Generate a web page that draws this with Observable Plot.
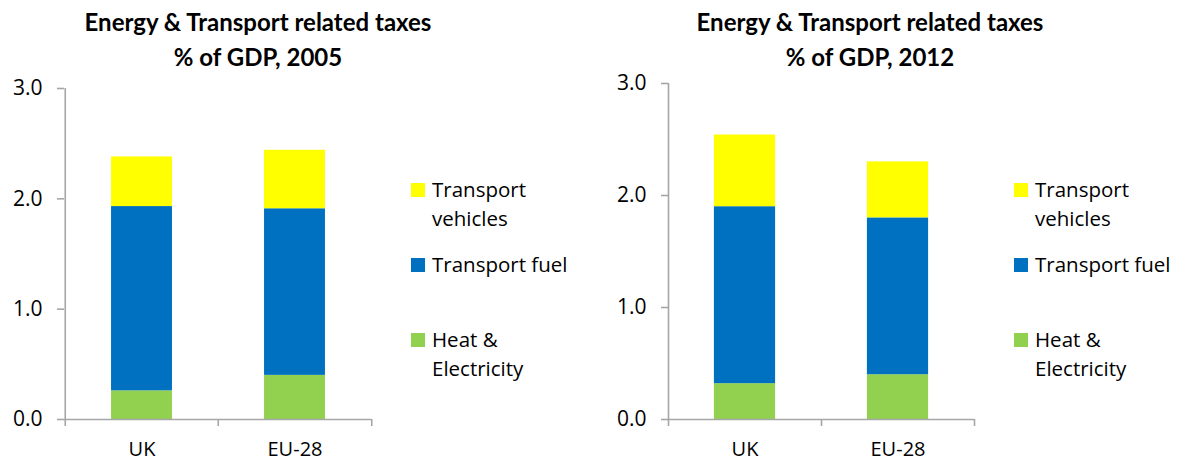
<!DOCTYPE html>
<html><head><meta charset="utf-8">
<script src="https://cdn.jsdelivr.net/npm/d3@7"></script>
<script src="https://cdn.jsdelivr.net/npm/@observablehq/plot@0.6"></script>
<style>
body{margin:0;background:#fff;}
#root{position:relative;width:1184px;height:462px;overflow:hidden;font-family:"Open Sans",Lato,sans-serif;color:#000;background:#fff;}
.title{position:absolute;top:4px;width:520px;text-align:center;font-family:Lato,"Open Sans",sans-serif;font-weight:700;font-size:24px;line-height:35px;white-space:nowrap;}
.legtext{position:absolute;font-size:20.5px;line-height:29px;white-space:nowrap;}
.sw{position:absolute;width:14px;height:14px;}
.panel{position:absolute;top:70px;}
</style></head><body><div id="root"></div>
<script>
// ---- data ----
const categories = ["UK", "EU-28"];
const seriesNames = ["Heat & Electricity", "Transport fuel", "Transport vehicles"];
const seriesColors = ["#92D050", "#0070C0", "#FFFF00"];
const heat2005 = [0.26, 0.40];
const fuel2005 = [1.67, 1.51];
const vehicles2005 = [0.45, 0.53];
const heat2012 = [0.32, 0.40];
const fuel2012 = [1.58, 1.40];
const vehicles2012 = [0.64, 0.50];
const yTicks = [0, 1, 2, 3];
const titleLine1 = "Energy & Transport related taxes";
const titleLine2 = ["% of GDP, 2005", "% of GDP, 2012"];
const legendLines = [["Heat &", "Electricity"], ["Transport fuel"], ["Transport", "vehicles"]];

// ---- layout ----
const gray = "#A6A6A6";
const W = 380, H = 392;
const panels = [
  {left: 0, ml: 64, mr: 9, mt: 18, titleCx: 258, legX: 411, values: [heat2005, fuel2005, vehicles2005], sub: titleLine2[0]},
  {left: 600, ml: 68, mr: 6, mt: 13, titleCx: 870, legX: 1014, values: [heat2012, fuel2012, vehicles2012], sub: titleLine2[1]}
];
const legendCenters = [340, 265, 190];

const root = document.getElementById("root");

panels.forEach(p => {
  const rows = [];
  seriesNames.forEach((s, si) => categories.forEach((c, ci) => rows.push({cat: c, series: s, value: p.values[si][ci]})));
  const bw = (W - p.ml - p.mr) / categories.length;
  const chart = Plot.plot({
    width: W, height: H,
    marginLeft: p.ml, marginRight: p.mr, marginTop: p.mt, marginBottom: 43,
    style: {fontFamily: "'Open Sans', Lato, sans-serif", fontSize: "21px", color: "#000", background: "transparent", overflow: "visible"},
    x: {type: "band", domain: categories, padding: 0, axis: null},
    y: {domain: [0, 3], axis: null},
    color: {domain: seriesNames, range: seriesColors},
    marks: [
      Plot.barY(rows, {x: "cat", y: "value", fill: "series", insetLeft: bw * 0.3, insetRight: bw * 0.3}),
      Plot.ruleY([0], {stroke: gray, strokeWidth: 1.6}),
      Plot.ruleX([categories[0]], {x: d => d, dx: -bw / 2, y1: 0, y2: 3, stroke: gray, strokeWidth: 1.6}),
      Plot.ruleX(categories, {x: d => d, dx: -bw / 2, y1: 0, y2: 0, insetBottom: -7, stroke: gray, strokeWidth: 1.6}),
      Plot.ruleX([categories[categories.length - 1]], {x: d => d, dx: bw / 2, y1: 0, y2: 0, insetBottom: -7, stroke: gray, strokeWidth: 1.6}),
      Plot.axisY({ticks: yTicks, label: null, tickSize: 7, tickPadding: 15, tickFormat: d => d.toFixed(1), stroke: gray, strokeWidth: 1.6, fontSize: 21, fill: "#000"}),
      Plot.axisX({label: null, tickSize: 0, tickPadding: 22, fontSize: 20, fill: "#000"})
    ]
  });
  const wrap = document.createElement("div");
  wrap.className = "panel";
  wrap.style.left = p.left + "px";
  wrap.appendChild(chart);
  root.appendChild(wrap);

  const t = document.createElement("div");
  t.className = "title";
  t.style.left = (p.titleCx - 260) + "px";
  const l1 = document.createElement("div"); l1.textContent = titleLine1;
  const l2 = document.createElement("div"); l2.textContent = p.sub;
  t.appendChild(l1); t.appendChild(l2);
  root.appendChild(t);

  seriesNames.forEach((s, si) => {
    const cy = legendCenters[si];
    const sw = document.createElement("div");
    sw.className = "sw";
    sw.style.left = p.legX + "px";
    sw.style.top = (cy - 7) + "px";
    sw.style.background = seriesColors[si];
    root.appendChild(sw);
    const tx = document.createElement("div");
    tx.className = "legtext";
    tx.style.left = (p.legX + 21) + "px";
    tx.style.top = (cy - 15.5) + "px";
    tx.innerHTML = legendLines[si].map(x => x.replace(/&/g, "&amp;")).join("<br>");
    root.appendChild(tx);
  });
});
</script></body></html>
